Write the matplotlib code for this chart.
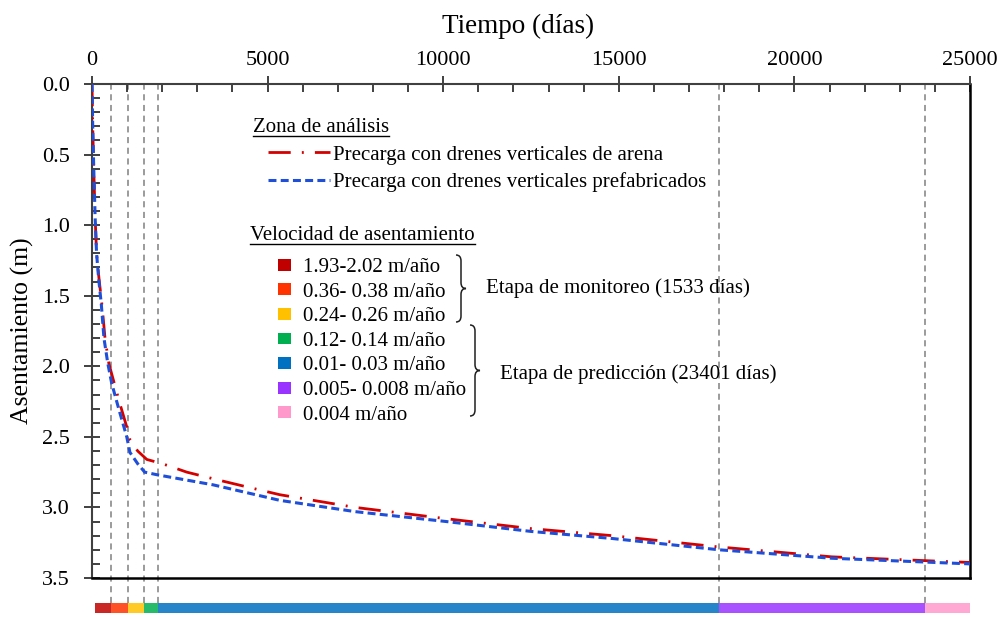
## Asentamiento vs tiempo - precarga con drenes verticales
import matplotlib
matplotlib.use('Agg')
import matplotlib.pyplot as plt
import matplotlib.ticker as mtick
from matplotlib.lines import Line2D
from matplotlib.patches import Patch, PathPatch
from matplotlib.path import Path

plt.rcParams['font.family'] = ['Liberation Serif', 'DejaVu Serif']
## -------------------------------------------------------------------------- ##
# curva: precarga con drenes verticales de arena
dias_arena = [0, 20, 50, 90, 130, 200, 290, 370, 480, 600, 800, 990, 1080,
              1300, 1560, 2000, 2700, 3500, 4500, 5350, 7500, 10090, 12500,
              14810, 17850, 21060, 25000]
asent_arena = [0.0, 0.30, 0.60, 0.95, 1.20, 1.38, 1.58, 1.80, 1.98, 2.09,
               2.27, 2.43, 2.52, 2.60, 2.66, 2.69, 2.75, 2.80, 2.86, 2.91,
               3.00, 3.08, 3.15, 3.20, 3.28, 3.35, 3.39]
# curva: precarga con drenes verticales prefabricados
dias_pref = [0, 20, 50, 90, 130, 190, 265, 340, 450, 560, 760, 990, 1080,
             1300, 1500, 1880, 3450, 5350, 7500, 10090, 12500, 14810, 17850,
             21060, 25000]
asent_pref = [0.0, 0.30, 0.60, 0.95, 1.20, 1.38, 1.56, 1.80, 1.98, 2.12,
              2.30, 2.50, 2.61, 2.69, 2.75, 2.77, 2.84, 2.95, 3.03, 3.10,
              3.17, 3.22, 3.30, 3.36, 3.40]

# tramos de velocidad de asentamiento (limites en dias)
limites = [90, 548, 1023, 1486, 1875, 17860, 23720, 25000]
vel_labels = ['1.93-2.02 m/año', '0.36- 0.38 m/año', '0.24- 0.26 m/año',
              '0.12- 0.14 m/año', '0.01- 0.03 m/año', '0.005- 0.008 m/año',
              '0.004 m/año']
vel_colors = ['#C00000', '#FF3300', '#FFC000', '#00B050', '#0070C0',
              '#9933FF', '#FF99CC']
## -------------------------------------------------------------------------- ##
font_size = 15
tick_size = 16
label_size = 18.5

fig = plt.figure(figsize=(10.04, 6.17), dpi=100)
ax = fig.add_axes([92/1004, 1-578/617, 878/1004, 494/617])

def px(x, y):
  # pixel position of the reference -> axes fraction
  return ((x - 92) / 878.0, (578 - y) / 494.0)

red_line, = ax.plot(dias_arena, asent_arena, color='#D40000', lw=2.0,
                    dashes=(8.0, 4.0, 0.7, 4.0), zorder=3)
blue_line, = ax.plot(dias_pref, asent_pref, color='#1F4FD8', lw=2.2,
                     dashes=(2.6, 1.4), zorder=4)

# limites verticales
ax.vlines(limites[1:-1], -0.05, 1.0, transform=ax.get_xaxis_transform(),
          colors='#808080', linestyles=(0, (4, 3)), lw=1.1, clip_on=False,
          zorder=1)

# barra de colores
tramos = [(a, b - a) for a, b in zip(limites[:-1], limites[1:])]
ax.broken_barh(tramos, (-0.071, 0.021), facecolors=vel_colors, alpha=0.85,
               transform=ax.get_xaxis_transform(), clip_on=False)

ax.set_xlim(0, 25000)
ax.set_ylim(3.5, 0)
ax.xaxis.tick_top()
ax.xaxis.set_label_position('top')
ax.xaxis.set_major_locator(mtick.MultipleLocator(5000))
ax.xaxis.set_minor_locator(mtick.MultipleLocator(1000))
ax.yaxis.set_major_locator(mtick.MultipleLocator(0.5))
ax.yaxis.set_minor_locator(mtick.MultipleLocator(0.1))
ax.yaxis.set_major_formatter(mtick.FormatStrFormatter('%.1f'))
ax.tick_params(which='major', direction='inout', length=12, width=1.2,
               labelsize=tick_size, color='#202020')
ax.tick_params(which='minor', direction='in', length=6, width=1.2,
               color='#202020')
ax.tick_params(axis='x', which='both', top=True, bottom=False, pad=4)
ax.tick_params(axis='y', which='both', left=True, right=False, pad=10)
for s in ['top', 'left']:
  ax.spines[s].set_color('#404040')
  ax.spines[s].set_linewidth(1.5)
for s in ['right', 'bottom']:
  ax.spines[s].set_color('black')
  ax.spines[s].set_linewidth(1.8)

ax.set_xlabel('Tiempo (días)', fontsize=19.5)
ax.xaxis.set_label_coords(px(518, 0)[0], px(0, 33)[1])
ax.set_ylabel('Asentamiento (m)', fontsize=label_size, labelpad=6)

# leyendas
t1 = ax.text(*px(253, 128), 'Zona de análisis', fontsize=font_size,
             va='center', ha='left', transform=ax.transAxes)
t2 = ax.text(*px(250, 236), 'Velocidad de asentamiento', fontsize=font_size,
             va='center', ha='left', transform=ax.transAxes)

leg1 = ax.legend([red_line, blue_line],
                 ['Precarga con drenes verticales de arena',
                  'Precarga con drenes verticales prefabricados'],
                 loc='upper left', bbox_to_anchor=px(268, 145),
                 frameon=False, fontsize=font_size, borderpad=0,
                 borderaxespad=0, handlelength=3.0, handletextpad=0.1,
                 labelspacing=0.37)
ax.add_artist(leg1)
parches = [Patch(facecolor=c, edgecolor='none') for c in vel_colors]
leg2 = ax.legend(parches, vel_labels, loc='upper left',
                 bbox_to_anchor=px(278, 258), frameon=False,
                 fontsize=font_size, borderpad=0, borderaxespad=0,
                 handlelength=0.63, handleheight=0.5, handletextpad=0.55,
                 labelspacing=0.27)

def llave(x0, y0, y1, w):
  # curly brace opening to the left, coordinates in reference pixels
  xa, yt = px(x0, y0)
  xb, yb = px(x0 + w, y1)
  xm = (xa + xb) / 2.0
  ym = (yt + yb) / 2.0
  r = 0.012
  verts = [(xa, yt), (xm, yt), (xm, yt - r),
           (xm, ym + r), (xm, ym), (xb, ym),
           (xm, ym), (xm, ym - r),
           (xm, yb + r), (xm, yb), (xa, yb)]
  codes = [Path.MOVETO, Path.CURVE3, Path.CURVE3,
           Path.LINETO, Path.CURVE3, Path.CURVE3,
           Path.CURVE3, Path.CURVE3,
           Path.LINETO, Path.CURVE3, Path.CURVE3]
  ax.add_patch(PathPatch(Path(verts, codes), fill=False, lw=1.1,
                         edgecolor='#202020', transform=ax.transAxes,
                         clip_on=False))

llave(456, 255, 322, 10)
llave(470, 325, 416, 10)
ax.text(*px(486, 288), 'Etapa de monitoreo (1533 días)', fontsize=font_size,
        va='center', ha='left', transform=ax.transAxes)
ax.text(*px(500, 374), 'Etapa de predicción (23401 días)', fontsize=font_size,
        va='center', ha='left', transform=ax.transAxes)

# subrayado de los titulos de leyenda
fig.canvas.draw()
rend = fig.canvas.get_renderer()
for t in [t1, t2]:
  bb = t.get_window_extent(rend)
  (xa, ya), (xb, yb) = fig.transFigure.inverted().transform(
      [[bb.x0, bb.y0 + 2], [bb.x1, bb.y0 + 2]])
  fig.add_artist(Line2D([xa, xb], [ya, yb], color='black', lw=1.0,
                        transform=fig.transFigure))

fig.savefig('out.png', dpi=100)
